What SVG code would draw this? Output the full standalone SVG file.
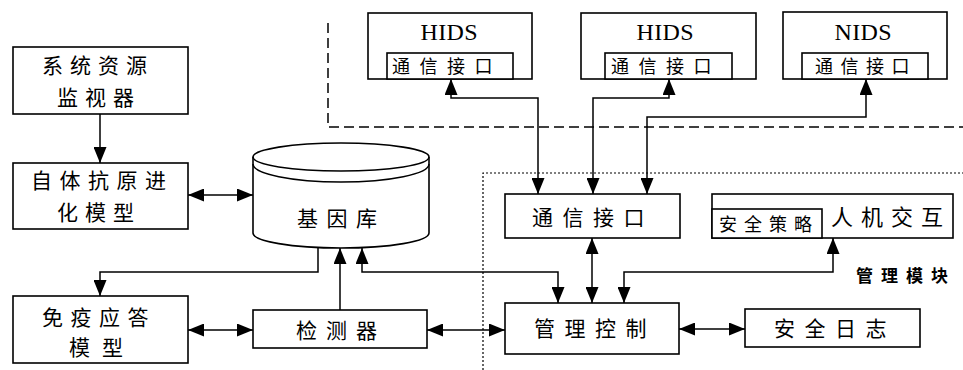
<svg xmlns="http://www.w3.org/2000/svg" width="963" height="370" viewBox="0 0 963 370">
  <style>
    .box { fill: #fff; stroke: #000; stroke-width: 1.6; }
    .cn { font-family: "Noto Sans CJK SC", "Noto Sans", sans-serif; fill: #000; }
    .t21 { font-size: 21px; }
    .t18 { font-size: 18px; }
    .lat { font-family: "Liberation Serif", "DejaVu Serif", serif; font-size: 24px; fill: #000; text-anchor: middle; }
    .wire { fill: none; stroke: #000; stroke-width: 1.5; }
    .arr { marker-end: url(#ah); }
    .dbl { marker-start: url(#ah); marker-end: url(#ah); }
    .dash { fill: none; stroke: #000; stroke-width: 1.5; stroke-dasharray: 10 5; }
    .dot { fill: none; stroke: #000; stroke-width: 1.2; stroke-dasharray: 2 2; }
  </style>
  <defs>
    <marker id="ah" markerUnits="userSpaceOnUse" markerWidth="17" markerHeight="13" refX="16" refY="6.5" orient="auto-start-reverse" viewBox="0 0 17 13">
      <path d="M0,0 L16,6.5 L0,13 Z" fill="#000"/>
    </marker>
  </defs>

  <rect width="963" height="370" fill="#fff"/>

  <!-- region outlines: remote detectors (dashed) and management module (dotted) -->
  <g id="regions">
    <path class="dash" d="M328,23 V127 H963"/>
    <path class="dot" d="M483,370 V173 H963"/>
    <text class="cn" x="856" y="282" font-size="17" font-weight="bold" letter-spacing="8">管理模块</text>
  </g>

  <!-- connectors -->
  <g id="connectors">
    <path class="wire arr" d="M100,114 V163"/>
    <path class="wire dbl" d="M188,195 H253"/>
    <path class="wire arr" d="M318,247 V272 H100 V296"/>
    <path class="wire arr" d="M340,310 V248"/>
    <path class="wire dbl" d="M362,248 V272 H558 V303"/>
    <path class="wire dbl" d="M188,330 H253"/>
    <path class="wire dbl" d="M427,330 H505"/>
    <path class="wire dbl" d="M679,329 H745"/>
    <path class="wire dbl" d="M592,238 V303"/>
    <path class="wire dbl" d="M833,238 V272 H624 V303"/>
    <path class="wire dbl" d="M538,194 V98 H451 V79"/>
    <path class="wire dbl" d="M593,194 V98 H669 V79"/>
    <path class="wire dbl" d="M647,194 V117 H866 V79"/>
  </g>

  <g id="sysmon">
    <rect class="box" x="13" y="47" width="175" height="67"/>
    <text class="cn t21" x="42" y="73" letter-spacing="7">系统资源</text>
    <text class="cn t21" x="57" y="105" letter-spacing="7">监视器</text>
  </g>

  <g id="antigen">
    <rect class="box" x="13" y="163" width="175" height="66"/>
    <text class="cn t21" x="31" y="188" letter-spacing="7.5">自体抗原进</text>
    <text class="cn t21" x="57" y="220" letter-spacing="7">化模型</text>
  </g>

  <g id="immune">
    <rect class="box" x="13" y="296" width="175" height="67"/>
    <text class="cn t21" x="42" y="325" letter-spacing="7.5">免疫应答</text>
    <text class="cn t21" x="69" y="355" letter-spacing="12">模型</text>
  </g>

  <g id="genebase">
    <path class="box" d="M253,157 V233 A88,15 0 0 0 429,233 V157 A88,14 0 0 0 253,157 Z"/>
    <path class="wire" d="M253,157 A88,14 0 0 0 429,157"/>
    <path class="wire" d="M253,164 A88,18 0 0 0 429,164"/>
    <text class="cn t21" x="297" y="226" letter-spacing="8.5">基因库</text>
  </g>

  <g id="detector">
    <rect class="box" x="253" y="310" width="174" height="38"/>
    <text class="cn t21" x="296" y="338" letter-spacing="9">检测器</text>
  </g>

  <g id="hids1">
    <rect class="box" x="368" y="13" width="164" height="66"/>
    <text class="lat" x="449" y="40" textLength="57" lengthAdjust="spacing">HIDS</text>
    <rect class="box" x="387" y="53" width="126" height="26"/>
    <text class="cn t18" x="392" y="73" letter-spacing="9.5">通信接口</text>
  </g>

  <g id="hids2">
    <rect class="box" x="581" y="13" width="175" height="66"/>
    <text class="lat" x="665" y="40" textLength="57" lengthAdjust="spacing">HIDS</text>
    <rect class="box" x="605" y="53" width="127" height="26"/>
    <text class="cn t18" x="611" y="73" letter-spacing="9.5">通信接口</text>
  </g>

  <g id="nids">
    <rect class="box" x="783" y="12" width="164" height="67"/>
    <text class="lat" x="863" y="40" textLength="57" lengthAdjust="spacing">NIDS</text>
    <rect class="box" x="802" y="53" width="126" height="26"/>
    <text class="cn t18" x="815" y="73" letter-spacing="7.5">通信接口</text>
  </g>

  <g id="comm">
    <rect class="box" x="505" y="194" width="175" height="44"/>
    <text class="cn t21" x="532" y="225" letter-spacing="9.5">通信接口</text>
  </g>

  <g id="hci">
    <rect class="box" x="712" y="194" width="241" height="44"/>
    <text class="cn" x="831" y="225" font-size="22" letter-spacing="8">人机交互</text>
    <rect class="box" x="712" y="209" width="110" height="29"/>
    <text class="cn t18" x="719" y="231" letter-spacing="7">安全策略</text>
  </g>

  <g id="control">
    <rect class="box" x="505" y="303" width="174" height="51"/>
    <text class="cn t21" x="534" y="336" letter-spacing="9.5">管理控制</text>
  </g>

  <g id="seclog">
    <rect class="box" x="745" y="309" width="175" height="38"/>
    <text class="cn t21" x="774" y="336" letter-spacing="9.5">安全日志</text>
  </g>
</svg>
